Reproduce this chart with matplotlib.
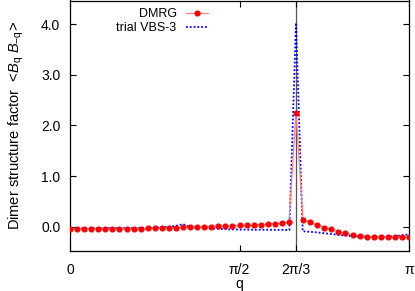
import numpy as np
import matplotlib
matplotlib.use("Agg")
import matplotlib.pyplot as plt

plt.rcParams['font.family'] = ['Liberation Sans', 'DejaVu Sans']
plt.rcParams['mathtext.fontset'] = 'custom'
plt.rcParams['mathtext.rm'] = 'Liberation Sans'
plt.rcParams['mathtext.it'] = 'Liberation Sans:italic'

# DMRG: q = 2*pi*k/96, k = 0..48
dmrg_k = np.arange(49)
dmrg_L = 96
dmrg_vals = [-0.043, -0.043, -0.043, -0.043, -0.043, -0.043, -0.043, -0.043,
             -0.043, -0.043, -0.04, -0.035, -0.033, -0.03, -0.025, -0.018,
             -0.01, -0.01, -0.004, -0.004, 0.004, 0.01, 0.01, 0.016,
             0.024, 0.024, 0.03, 0.043, 0.05, 0.063, 0.07, 0.092,
             2.25, 0.128, 0.089, 0.036, -0.016, -0.055, -0.095, -0.128,
             -0.162, -0.182, -0.194, -0.2, -0.207, -0.213, -0.213, -0.213,
             -0.207]

# trial VBS-3: q = 2*pi*k/102, k = 0..51
vbs_k = np.arange(52)
vbs_L = 102
vbs_vals = [-0.028, -0.028, -0.028, -0.028, -0.028, -0.028, -0.028, -0.028,
            -0.027, -0.026, -0.025, -0.022, -0.02, -0.017, -0.01, 0.0,
            0.02, 0.05, 0.0, -0.01, -0.02, -0.03, -0.04, -0.047,
            -0.052, -0.055, -0.057, -0.058, -0.06, -0.06, -0.06, -0.062,
            -0.063, -0.065, 4.03, -0.09, -0.1, -0.11, -0.125, -0.14,
            -0.155, -0.17, -0.18, -0.19, -0.195, -0.2, -0.2, -0.2,
            -0.195, -0.185, -0.17, -0.15]

xtick_pos = [0, np.pi / 2, 2 * np.pi / 3, np.pi]
xtick_labels = ['0', 'π/2', '2π/3', 'π']
ytick_pos = [0.0, 1.0, 2.0, 3.0, 4.0]
ytick_labels = ['0.0', '1.0', '2.0', '3.0', '4.0']

q_dmrg = 2 * np.pi * dmrg_k / dmrg_L
q_vbs = 2 * np.pi * vbs_k / vbs_L

fig = plt.figure(figsize=(4.15, 2.91), dpi=100)
ax = fig.add_axes([70 / 415, 40 / 291, 339 / 415, 250.5 / 291])

ax.axvline(2 * np.pi / 3, color='#555555', lw=0.9, zorder=1)
ax.plot(q_dmrg, dmrg_vals, color='#ff8080', lw=0.9, marker='o', ms=3.4,
        mfc='#ff0000', mec='#ff0000', label='DMRG', zorder=3)
ax.plot(q_vbs, vbs_vals, color='#0000ff', lw=1.3, ls=(0, (1, 1.1)),
        label='trial VBS-3', zorder=2)

ax.set_xlim(0, np.pi)
ax.set_ylim(-0.48, 4.47)
ax.set_xticks(xtick_pos)
ax.set_xticklabels(xtick_labels)
ax.set_yticks(ytick_pos)
ax.set_yticklabels(ytick_labels)
ax.tick_params(direction='in', top=True, right=True, length=4, width=0.8,
               labelsize=10, pad=7)
ax.tick_params(axis='x', pad=9)

ax.set_xlabel('q', fontsize=10, labelpad=-0.5)
ax.set_ylabel(r'Dimer structure factor  <$B_{\mathrm{q}}$ $B_{\mathrm{-q}}$>',
              fontsize=10.5, labelpad=11)

for s in ax.spines.values():
    s.set_linewidth(0.9)

leg = ax.legend(loc='upper left', bbox_to_anchor=(0.115, 1.0), frameon=False,
                markerfirst=False, fontsize=9, handlelength=1.8,
                handletextpad=0.75, labelspacing=0.15, borderaxespad=0.2)
for t in leg.get_texts():
    t.set_ha('right')
leg._legend_box.align = 'right'

fig.savefig('out.png', dpi=100)
